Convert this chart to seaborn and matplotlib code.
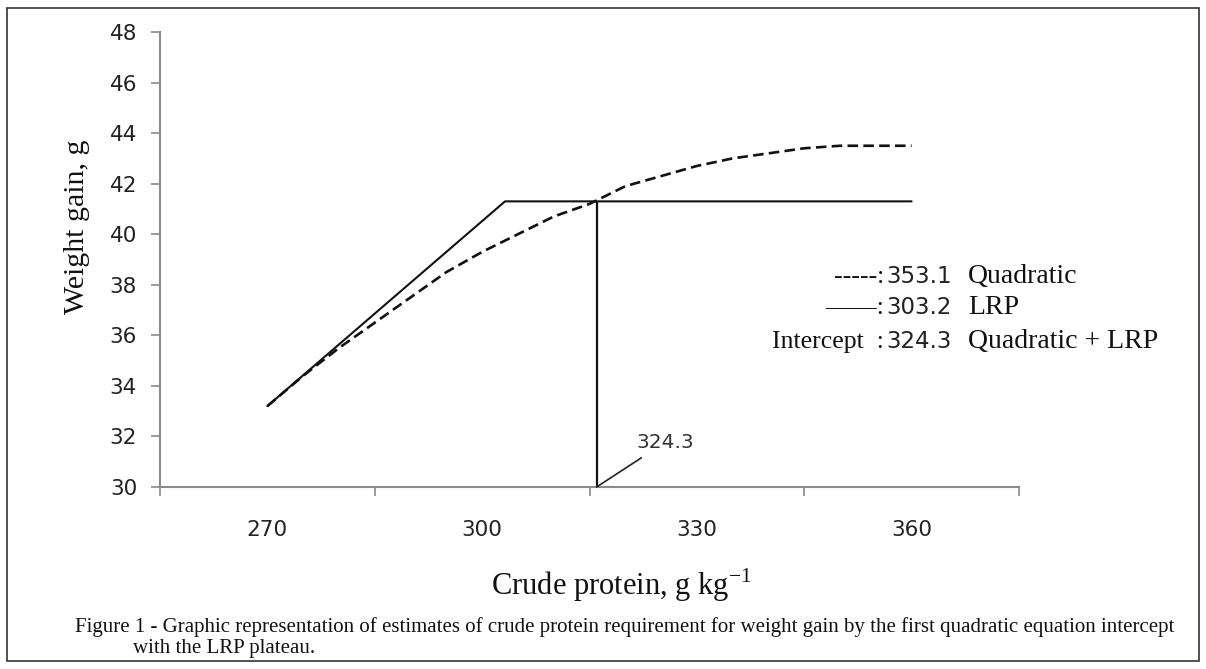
import matplotlib
matplotlib.use("Agg")
import matplotlib.pyplot as plt
import seaborn as sns
import pandas as pd
from matplotlib.patches import Rectangle

# ---- data ----
cp_quad = [270, 275, 280, 285, 290, 295, 300, 305, 310, 315, 320, 325, 330, 335, 340, 345, 350, 355, 360]
wg_quad = [33.2, 34.4, 35.5, 36.5, 37.5, 38.5, 39.3, 40.0, 40.7, 41.2, 41.9, 42.3, 42.7, 43.0, 43.2, 43.4, 43.5, 43.5, 43.5]
cp_lrp = [270, 303.2, 360]
wg_lrp = [33.2, 41.3, 41.3]
intercept_x = 316.0
plateau_y = 41.3
intercept_label = "324.3"
y_ticks = [30, 32, 34, 36, 38, 40, 42, 44, 46, 48]
x_labels = [270, 300, 330, 360]
x_tickmarks = [255, 285, 315, 345, 375]
legend_rows = [("-----:", "353.1", "Quadratic"),
               ("——:", "303.2", "LRP"),
               ("Intercept  :", "324.3", "Quadratic + LRP")]
xlabel = "Crude protein, g kg$^{\\mathregular{-1}}$"
ylabel = "Weight gain, g"
caption1 = "Figure 1 - Graphic representation of estimates of crude protein requirement for weight gain by the first quadratic equation intercept"
caption2 = "with the LRP plateau."

sns.set_style("white")
plt.rcParams["font.family"] = ["DejaVu Sans"]

W, H = 1206, 669
fig = plt.figure(figsize=(W / 100, H / 100), dpi=100)

def fx(px):
    return px / W

def fy(py):
    return 1 - py / H

ax = fig.add_axes([fx(160), fy(487), fx(1019) - fx(160), fy(32) - fy(487)])

df_q = pd.DataFrame({"cp": cp_quad, "wg": wg_quad})
df_l = pd.DataFrame({"cp": cp_lrp, "wg": wg_lrp})

sns.lineplot(data=df_l, x="cp", y="wg", ax=ax, color="#111111", lw=1.5, sort=False)
sns.lineplot(data=df_q, x="cp", y="wg", ax=ax, color="#111111", lw=1.9, sort=False)
ax.lines[-1].set_dashes((4, 2))
ax.vlines(intercept_x, y_ticks[0], plateau_y, color="#111111", lw=1.6)

ax.set_xlim(x_tickmarks[0], x_tickmarks[-1])
ax.set_ylim(y_ticks[0], y_ticks[-1])

# annotation of intercept
ax.annotate(intercept_label, xy=(intercept_x, y_ticks[0]), xytext=(321.6, 31.78),
            textcoords="data", ha="left", va="center", fontsize=14.5, color="#333333",
            arrowprops=dict(arrowstyle="-", color="#222222", lw=1.2, shrinkA=4, shrinkB=0))

# axes styling
for s in ["top", "right"]:
    ax.spines[s].set_visible(False)
for s in ["left", "bottom"]:
    ax.spines[s].set_color("#8a8a8a")
    ax.spines[s].set_linewidth(1.5)

ax.set_yticks(y_ticks)
ax.set_yticklabels([str(v) for v in y_ticks])
ax.tick_params(axis="y", direction="out", length=6.5, width=1.2, color="#8a8a8a",
               labelsize=15.5, labelcolor="#222222", pad=10, left=True)

ax.set_xticks(x_tickmarks)
ax.set_xticklabels([""] * len(x_tickmarks))
ax.set_xticks(x_labels, minor=True)
ax.set_xticklabels([str(v) for v in x_labels], minor=True)
ax.tick_params(axis="x", which="major", direction="out", length=6.5, width=1.2,
               color="#8a8a8a", bottom=True)
ax.tick_params(axis="x", which="minor", length=0, labelsize=15.5,
               labelcolor="#222222", pad=24)
ax.set_xlabel("")
ax.set_ylabel("")

serif = ["Liberation Serif", "DejaVu Serif"]

fig.text(fx(77), fy(227), ylabel, rotation=90, ha="center", va="center",
         fontsize=21.5, family=serif, color="#111111")
fig.text(fx(621), fy(585), xlabel, ha="center", va="center",
         fontsize=22, family=serif, color="#111111")

# legend-like text block
row_y = [277, 308, 342]
for (pre, num, word), py in zip(legend_rows, row_y):
    fig.text(fx(884), fy(py), pre, ha="right", va="center", fontsize=18.5,
             family=serif, color="#111111")
    fig.text(fx(886), fy(py), num, ha="left", va="center", fontsize=16.5,
             family=["DejaVu Sans"], color="#222222")
    fig.text(fx(968), fy(py), word, ha="left", va="center", fontsize=20,
             family=serif, color="#111111")

fig.text(fx(75), fy(627), caption1, ha="left", va="center", fontsize=15,
         family=serif, color="#111111")
fig.text(fx(133), fy(649), caption2, ha="left", va="center", fontsize=15,
         family=serif, color="#111111")

# outer frame
fig.patches.append(Rectangle((fx(7), fy(661)), fx(1199) - fx(7), fy(8) - fy(661),
                             transform=fig.transFigure, fill=False,
                             edgecolor="#333333", lw=1.2))

fig.savefig("out.png", dpi=100)
